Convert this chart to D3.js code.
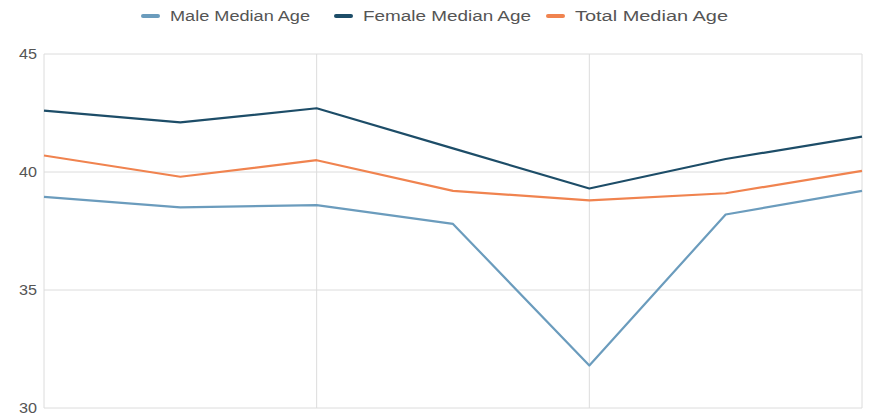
<!DOCTYPE html>
<html><head><meta charset="utf-8">
<script src="https://cdn.jsdelivr.net/npm/d3@7"></script>
<style>body{margin:0;background:#fff;font-family:"Liberation Sans",Arial,sans-serif;}</style>
</head><body><svg id="c" width="886" height="417"></svg>
<script>
const categories = ["2014","2015","2016","2017","2018","2019","2020"];
const maleAge   = [38.95, 38.5, 38.6, 37.8, 31.8, 38.2, 39.2];
const femaleAge = [42.6, 42.1, 42.7, 41.0, 39.3, 40.55, 41.5];
const totalAge  = [40.7, 39.8, 40.5, 39.2, 38.8, 39.1, 40.05];
const yTicks = [30, 35, 40, 45];
const seriesNames = ["Male Median Age","Female Median Age","Total Median Age"];

const series = [
  {name: seriesNames[0], values: maleAge, color: "#6b9cbd"},
  {name: seriesNames[1], values: femaleAge, color: "#1d4d68"},
  {name: seriesNames[2], values: totalAge, color: "#f0834f"}
];
const svg = d3.select("#c");
const m = {l:44, r:862, t:54, b:408};
const x = d3.scalePoint().domain(categories).range([m.l, m.r]);
const y = d3.scaleLinear().domain([30,45]).range([m.b, m.t]);

svg.append("g").selectAll("line").data(yTicks).join("line")
  .attr("x1", m.l).attr("x2", m.r).attr("y1", d=>y(d)).attr("y2", d=>y(d))
  .attr("stroke", "#dcdcdc").attr("stroke-width", 1);
const xTickCats = categories.filter((d,i)=>i%2===0);
svg.append("g").selectAll("line").data(xTickCats).join("line")
  .attr("x1", d=>x(d)).attr("x2", d=>x(d)).attr("y1", m.t).attr("y2", m.b)
  .attr("stroke", "#dcdcdc").attr("stroke-width", 1);

svg.append("g").selectAll("text").data(yTicks).join("text")
  .attr("x", 37).attr("y", d=>y(d)).attr("dy", "0.35em")
  .attr("text-anchor", "end").attr("font-size", 14).attr("fill", "#555")
  .attr("textLength", 18).attr("lengthAdjust","spacingAndGlyphs")
  .text(d=>d);
svg.append("g").selectAll("text").data(xTickCats).join("text")
  .attr("x", d=>x(d)).attr("y", 427)
  .attr("text-anchor", "middle").attr("font-size", 14).attr("fill", "#666")
  .text(d=>d);

const line = d3.line().x((d,i)=>x(categories[i])).y(d=>y(d));
svg.append("g").selectAll("path").data(series).join("path")
  .attr("d", d=>line(d.values)).attr("fill","none")
  .attr("stroke", d=>d.color).attr("stroke-width", 2.2)
  .attr("stroke-linejoin","round");

const legX = [143, 336, 548];
const legW = [140, 168, 153];
const lg = svg.append("g").selectAll("g").data(series).join("g")
  .attr("transform", (d,i)=>`translate(${legX[i]},16)`);
lg.append("line").attr("x1",0).attr("x2",15).attr("y1",0).attr("y2",0)
  .attr("stroke", d=>d.color).attr("stroke-width", 4).attr("stroke-linecap","round");
lg.append("text").attr("x", 27).attr("y", 0).attr("dy","0.35em")
  .attr("font-size", 14).attr("fill", "#555")
  .attr("textLength", (d,i)=>legW[i]).attr("lengthAdjust","spacingAndGlyphs")
  .text(d=>d.name);
</script></body></html>
